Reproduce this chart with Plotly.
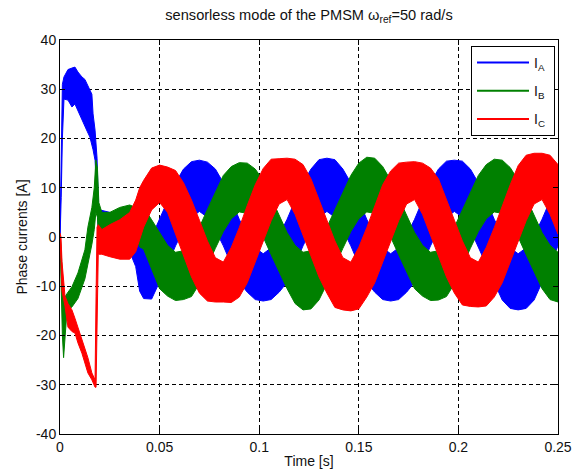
import plotly.graph_objects as go

# ---------------------------------------------------------------------------
# Phase currents of the PMSM in sensorless mode (w_ref = 50 rad/s).
# Each current is stored as the lower / upper edge of its PWM ripple band.
# ---------------------------------------------------------------------------

# start-up interval (dense samples), one time base per phase
ia_t_start = [0.0, 0.0006, 0.0012, 0.002, 0.004, 0.006, 0.0075, 0.009, 0.011, 0.0125,
              0.0136, 0.015, 0.016, 0.0166, 0.0176, 0.0186, 0.0193, 0.020, 0.025, 0.030,
              0.035, 0.038, 0.040]
ia_lo_start = [-0.5, 8, 20, 28, 27.8, 26.4, 27, 26, 24, 22.5,
               21.5, 20.3, 18.5, 17.7, 15.6, 8, 0, -1, -2, -2,
               -3, -6, -11]
ia_hi_start = [0.5, 22, 31, 32.5, 34, 34.3, 34.5, 33.5, 32.5, 32,
               31, 30, 29, 25, 21.7, 16, 6, 5.5, 5, 4.5,
               3.5, 1, -1]

ib_t_start = [0.0, 0.0005, 0.0012, 0.0018, 0.0025, 0.0035, 0.006, 0.009, 0.0125, 0.014,
              0.016, 0.0172, 0.018, 0.0188, 0.0195, 0.021, 0.025, 0.030, 0.035, 0.038,
              0.040]
ib_lo_start = [-0.5, -10, -20, -24.5, -21, -15, -14.2, -12.5, -8.5, -5.9,
               -1.5, 1.5, 5, 4, -1, 0, 0.5, 1, 1, 0,
               -2]
ib_hi_start = [0.5, -2, -8, -12, -12.2, -11.5, -10.1, -7.3, -2.6, 2,
               6, 10, 15.6, 14, 7, 5, 5, 6, 6.5, 6,
               5.5]

ic_t_start = [0.0, 0.0005, 0.001, 0.0025, 0.004, 0.006, 0.0075, 0.009, 0.011, 0.0125,
              0.014, 0.016, 0.0176, 0.0181, 0.0186, 0.0192, 0.021, 0.025, 0.030, 0.035,
              0.038, 0.040]
ic_lo_start = [-0.5, -5, -11, -14, -18.3, -19.2, -19.5, -21.5, -23.6, -25.5,
               -27.6, -29, -30.5, -30.5, -20, -3.5, -3.5, -4, -4.5, -4.5,
               -3, -0.5]
ic_hi_start = [0.8, 0, -5, -12, -13.5, -14.8, -16.5, -18.3, -20.5, -22.3,
               -24.5, -27.6, -29, -12, 2, 2.5, 1.5, 2.5, 3.5, 5,
               7.5, 10]

# running interval, common time base
t_run = [0.042, 0.046, 0.050, 0.054, 0.058, 0.062, 0.066, 0.070, 0.074, 0.078,
         0.082, 0.086, 0.090, 0.094, 0.098, 0.102, 0.106, 0.110, 0.114, 0.118,
         0.122, 0.126, 0.130, 0.134, 0.138, 0.142, 0.146, 0.150, 0.154, 0.158,
         0.162, 0.166, 0.170, 0.174, 0.178, 0.182, 0.186, 0.190, 0.194, 0.198,
         0.202, 0.206, 0.210, 0.214, 0.218, 0.222, 0.226, 0.230, 0.234, 0.238,
         0.242, 0.246, 0.250]

ia_lo_run = [-12.5, -12.6, -9.2, -5.6, -1.8, 1.5, 4.0, 5.2, 4.0, 1.5,
             -1.8, -5.6, -9.2, -11.2, -12.7, -13.0, -12.7, -11.2, -9.2, -5.6,
             -1.8, 1.5, 4.0, 5.2, 4.0, 1.5, -1.8, -5.6, -9.2, -11.2,
             -12.7, -13.0, -12.7, -11.2, -9.2, -5.6, -1.8, 1.5, 4.0, 5.2,
             4.0, 1.5, -1.8, -5.6, -9.2, -12.8, -14.5, -14.8, -14.5, -12.8,
             -9.2, -5.6, -1.8]
ia_hi_run = [-2.5, 0.0, 3.6, 7.4, 11.0, 13.8, 15.3, 15.6, 15.2, 13.8,
             11.0, 7.4, 3.6, 0.3, -2.2, -3.4, -2.2, 0.3, 3.6, 7.4,
             11.0, 13.8, 15.7, 16.0, 15.7, 13.8, 11.0, 7.4, 3.6, 0.3,
             -2.2, -3.4, -2.2, 0.3, 3.6, 7.4, 11.0, 13.8, 15.4, 15.6,
             15.4, 13.8, 11.0, 7.4, 3.6, 0.3, -2.2, -3.4, -2.2, 0.3,
             3.6, 7.4, 11.0]

ib_lo_run = [-2.5, -6.5, -10.5, -12.0, -12.9, -12.7, -12.1, -9.5, -6.0, -2.3,
             1.1, 3.7, 5.1, 4.8, 3.0, 0.0, -3.6, -7.2, -10.5, -13.5,
             -14.8, -14.6, -12.8, -9.5, -6.0, -2.3, 1.1, 3.7, 5.1, 4.8,
             3.0, 0.0, -3.6, -7.2, -10.5, -12.0, -12.9, -12.8, -12.1, -9.5,
             -6.0, -2.3, 1.1, 3.7, 5.1, 4.8, 3.0, 0.0, -3.6, -7.2,
             -10.5, -12.7, -13.2]
ib_hi_run = [6.0, 3.5, 0.9, -1.7, -3.1, -2.8, -1.0, 2.0, 5.6, 9.2,
             12.5, 14.3, 15.1, 15.0, 13.8, 11.5, 8.0, 4.3, 0.9, -1.7,
             -3.1, -2.8, -1.0, 2.0, 5.6, 9.2, 12.5, 15.0, 16.2, 16.0,
             14.3, 11.5, 8.0, 4.3, 0.9, -1.7, -3.1, -2.8, -1.0, 2.0,
             5.6, 9.2, 12.5, 14.7, 15.8, 15.6, 14.1, 11.5, 8.0, 4.3,
             0.9, -1.7, -3.1]

ic_lo_run = [2.0, 5.5, 7.0, 5.0, 0.6, -3.9, -8.1, -11.4, -13.0, -13.2,
             -13.2, -13.3, -12.2, -9.3, -5.3, -0.9, 3.3, 6.7, 7.6, 4.6,
             0.6, -3.9, -8.1, -11.4, -14.3, -14.8, -15.0, -14.6, -12.2, -9.3,
             -5.3, -0.9, 3.3, 6.7, 7.6, 4.6, 0.6, -3.9, -8.1, -11.4,
             -13.8, -14.1, -14.2, -14.0, -12.2, -9.3, -5.3, -0.9, 3.3, 6.7,
             7.6, 4.6, 0.6]
ic_hi_run = [11.5, 14.0, 14.6, 14.2, 13.5, 11.0, 7.5, 3.4, -0.8, -4.2,
             -5.1, -2.1, 1.9, 6.4, 10.6, 13.9, 15.8, 15.9, 16.0, 15.8,
             14.7, 11.8, 7.8, 3.4, -0.8, -4.2, -5.1, -2.1, 1.9, 6.4,
             10.6, 13.4, 15.0, 15.2, 15.3, 15.0, 14.0, 11.8, 7.8, 3.4,
             -0.8, -4.2, -5.1, -2.1, 1.9, 6.4, 10.6, 14.5, 16.6, 17.0,
             17.0, 16.6, 14.7]

x_ticks = [0, 0.05, 0.1, 0.15, 0.2, 0.25]
x_ticklabels = ["0", "0.05", "0.1", "0.15", "0.2", "0.25"]
y_ticks = [-40, -30, -20, -10, 0, 10, 20, 30, 40]
y_ticklabels = ["-40", "-30", "-20", "-10", "0", "10", "20", "30", "40"]

phases = [
    ("I<sub>A</sub>\u00a0", "#0000ff", ia_t_start + t_run, ia_lo_start + ia_lo_run, ia_hi_start + ia_hi_run),
    ("I<sub>B</sub>\u00a0", "#008000", ib_t_start + t_run, ib_lo_start + ib_lo_run, ib_hi_start + ib_hi_run),
    ("I<sub>C</sub>\u00a0", "#ff0000", ic_t_start + t_run, ic_lo_start + ic_lo_run, ic_hi_start + ic_hi_run),
]

FONT = "Liberation Sans, Arial, Helvetica, sans-serif"
TXT = "#111111"

fig = go.Figure()

# ripple bands, drawn A -> B -> C so that C ends up on top
for name, color, t, lo, hi in phases:
    fig.add_trace(go.Scatter(
        x=t + t[::-1], y=hi + lo[::-1],
        mode="lines", fill="toself", fillcolor=color,
        line=dict(color=color, width=1),
        hoverinfo="skip", showlegend=False,
    ))

# legend entries
for i, (name, color, t, lo, hi) in enumerate(phases):
    fig.add_trace(go.Scatter(
        x=[None], y=[None], mode="lines",
        line=dict(color=color, width=2),
        name=name, legendgroup=f"g{i}",
    ))

axis_style = dict(
    showline=True, linecolor="black", linewidth=1, mirror="ticks",
    ticks="inside", ticklen=5, tickcolor="black",
    showgrid=True, gridcolor="black", gridwidth=1, griddash="4px,3px",
    zeroline=False, automargin=False,
    tickfont=dict(family=FONT, size=14, color=TXT),
)

fig.update_xaxes(range=[0, 0.25], tickvals=x_ticks, ticktext=x_ticklabels,
                 title=dict(text="Time [s]", standoff=2,
                            font=dict(family=FONT, size=14, color=TXT)),
                 **axis_style)
fig.update_yaxes(range=[-40, 40], tickvals=y_ticks, ticktext=y_ticklabels,
                 title=dict(text="Phase currents [A]", standoff=5,
                            font=dict(family=FONT, size=14, color=TXT)),
                 **axis_style)

fig.update_layout(
    width=574, height=472,
    margin=dict(l=60, r=16, t=40, b=38),
    paper_bgcolor="white", plot_bgcolor="white",
    font=dict(family=FONT, size=14, color=TXT),
    title=dict(text="sensorless mode of the PMSM \u03c9<sub>ref</sub>=50 rad/s",
               x=309 / 574, xanchor="center", y=1 - 15 / 472, yanchor="middle",
               font=dict(family=FONT, size=14.6, color=TXT)),
    legend=dict(x=0.994, xanchor="right", y=0.985, yanchor="top",
                bgcolor="white", bordercolor="black", borderwidth=1,
                itemwidth=52, tracegroupgap=7, traceorder="grouped",
                font=dict(family=FONT, size=14, color=TXT)),
)

fig.write_html("out.html")
